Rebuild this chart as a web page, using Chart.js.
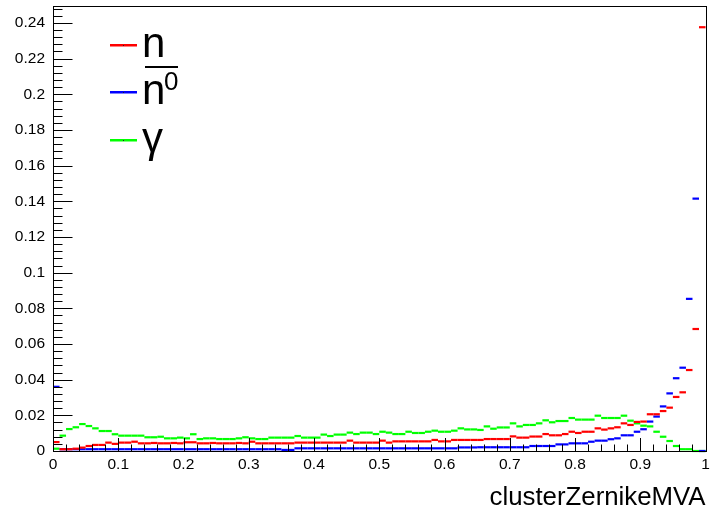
<!DOCTYPE html>
<html>
<head>
<meta charset="utf-8">
<script src="https://cdn.jsdelivr.net/npm/chart.js@4/dist/chart.umd.min.js"></script>
<style>
  html, body { margin: 0; padding: 0; background: #fff; }
  #wrap { width: 711px; height: 510px; }
</style>
</head>
<body>
<div id="wrap"><canvas id="mva" width="711" height="510"></canvas></div>
<script>
// histogram binning of clusterZernikeMVA
const nBins = 100;
const xLow = 0;
const xHigh = 1;
const yMax = 0.2495;

// labelled ticks
const xTickValues = [0, 0.1, 0.2, 0.3, 0.4, 0.5, 0.6, 0.7, 0.8, 0.9, 1];
const yTickValues = [0, 0.02, 0.04, 0.06, 0.08, 0.1, 0.12, 0.14, 0.16, 0.18, 0.2, 0.22, 0.24];

// normalised bin contents per particle type
const neutron = [
    0.0050, 0.0010, 0.0010, 0.0013, 0.0019, 0.0028, 0.0034, 0.0034, 0.0047, 0.0040,
    0.0047, 0.0047, 0.0052, 0.0043, 0.0043, 0.0045, 0.0043, 0.0043, 0.0045, 0.0043,
    0.0049, 0.0049, 0.0043, 0.0043, 0.0045, 0.0043, 0.0043, 0.0043, 0.0045, 0.0043,
    0.0052, 0.0043, 0.0043, 0.0043, 0.0043, 0.0043, 0.0043, 0.0047, 0.0047, 0.0047,
    0.0047, 0.0047, 0.0047, 0.0047, 0.0047, 0.0058, 0.0047, 0.0047, 0.0047, 0.0047,
    0.0058, 0.0047, 0.0054, 0.0054, 0.0054, 0.0054, 0.0054, 0.0054, 0.0062, 0.0054,
    0.0054, 0.0062, 0.0062, 0.0062, 0.0062, 0.0062, 0.0067, 0.0067, 0.0067, 0.0067,
    0.0082, 0.0075, 0.0075, 0.0081, 0.0081, 0.0095, 0.0088, 0.0088, 0.0095, 0.0108,
    0.0101, 0.0108, 0.0108, 0.0127, 0.0120, 0.0127, 0.0133, 0.0155, 0.0146, 0.0163,
    0.0165, 0.0206, 0.0206, 0.0224, 0.0243, 0.0303, 0.0329, 0.0454, 0.0684, 0.2376
];

const antiNeutron = [
    0.0360, 0.0010, 0.0010, 0.0010, 0.0010, 0.0010, 0.0010, 0.0010, 0.0010, 0.0010,
    0.0010, 0.0010, 0.0010, 0.0010, 0.0010, 0.0010, 0.0010, 0.0010, 0.0010, 0.0010,
    0.0010, 0.0010, 0.0010, 0.0010, 0.0010, 0.0010, 0.0010, 0.0010, 0.0010, 0.0010,
    0.0010, 0.0010, 0.0010, 0.0010, 0.0010, 0.0006, 0.0006, 0.0015, 0.0015, 0.0015,
    0.0015, 0.0015, 0.0015, 0.0015, 0.0015, 0.0015, 0.0015, 0.0015, 0.0015, 0.0015,
    0.0015, 0.0015, 0.0015, 0.0015, 0.0015, 0.0015, 0.0015, 0.0015, 0.0015, 0.0015,
    0.0015, 0.0015, 0.0020, 0.0020, 0.0020, 0.0021, 0.0021, 0.0021, 0.0021, 0.0021,
    0.0021, 0.0021, 0.0021, 0.0028, 0.0028, 0.0028, 0.0028, 0.0037, 0.0037, 0.0043,
    0.0043, 0.0043, 0.0052, 0.0058, 0.0058, 0.0066, 0.0071, 0.0088, 0.0088, 0.0108,
    0.0122, 0.0165, 0.0193, 0.0250, 0.0323, 0.0408, 0.0467, 0.0853, 0.1415, 0.0000
];

const photon = [
    0.0013, 0.0086, 0.0123, 0.0133, 0.0151, 0.0140, 0.0127, 0.0112, 0.0112, 0.0094,
    0.0086, 0.0086, 0.0086, 0.0086, 0.0077, 0.0077, 0.0080, 0.0071, 0.0071, 0.0075,
    0.0071, 0.0094, 0.0067, 0.0071, 0.0071, 0.0067, 0.0067, 0.0067, 0.0071, 0.0077,
    0.0071, 0.0067, 0.0067, 0.0075, 0.0075, 0.0075, 0.0075, 0.0084, 0.0075, 0.0075,
    0.0075, 0.0092, 0.0084, 0.0092, 0.0092, 0.0103, 0.0095, 0.0103, 0.0103, 0.0095,
    0.0108, 0.0103, 0.0095, 0.0095, 0.0108, 0.0101, 0.0101, 0.0108, 0.0114, 0.0108,
    0.0108, 0.0114, 0.0127, 0.0121, 0.0121, 0.0118, 0.0138, 0.0125, 0.0132, 0.0132,
    0.0155, 0.0138, 0.0146, 0.0146, 0.0155, 0.0172, 0.0161, 0.0168, 0.0168, 0.0185,
    0.0176, 0.0176, 0.0176, 0.0198, 0.0185, 0.0185, 0.0185, 0.0198, 0.0170, 0.0155,
    0.0142, 0.0138, 0.0108, 0.0080, 0.0056, 0.0028, 0.0010, 0.0010, 0.0000, 0.0000
];

const FONT = '"Liberation Sans", Arial, Helvetica, sans-serif';
Chart.defaults.color = '#000';
Chart.defaults.font.family = FONT;

const binWidth = (xHigh - xLow) / nBins;

function toPoints(vals) {
    return vals.map((v, i) => ({ x: xLow + (i + 0.5) * binWidth, y: v }));
}

function fmt(v) {
    return String(+v.toFixed(3));
}

// ROOT style frame with inward ticks on the left and bottom axes
const rootFrame = {
    id: 'rootFrame',
    afterDatasetsDraw(chart) {
        const { ctx, chartArea: a, scales: { x, y } } = chart;
        ctx.save();
        ctx.strokeStyle = '#000';
        ctx.lineWidth = 1;
        ctx.beginPath();
        // x ticks every 0.02, major every 0.1
        for (let k = 0; k <= 50; k++) {
            const px = Math.round(x.getPixelForValue(k * 0.02)) + 0.5;
            const len = (k % 5 === 0) ? 13 : 6.5;
            ctx.moveTo(px, a.bottom);
            ctx.lineTo(px, a.bottom - len);
        }
        // y ticks every 0.004, major every 0.02
        for (let k = 0; k * 0.004 <= yMax; k++) {
            const py = Math.round(y.getPixelForValue(k * 0.004)) + 0.5;
            const len = (k % 5 === 0) ? 19.5 : 9.5;
            ctx.moveTo(a.left, py);
            ctx.lineTo(a.left + len, py);
        }
        ctx.stroke();
        ctx.strokeRect(Math.round(a.left) + 0.5, Math.round(a.top) + 0.5,
            Math.round(a.right - a.left), Math.round(a.bottom - a.top));
        ctx.restore();
    }
};

// legend box: n, anti-n^0 and gamma
const rootLegend = {
    id: 'rootLegend',
    afterDraw(chart) {
        const ctx = chart.ctx;
        const rows = [
            { color: '#ff0000', y: 45 },
            { color: '#0000ff', y: 92 },
            { color: '#00ff00', y: 140 }
        ];
        ctx.save();
        rows.forEach(r => {
            ctx.fillStyle = r.color;
            ctx.fillRect(110, r.y - 1, 27, 2.5);
            ctx.fillStyle = '#222';
            ctx.fillRect(123, r.y, 1, 1);
        });
        ctx.fillStyle = '#000';
        ctx.textBaseline = 'alphabetic';
        ctx.textAlign = 'left';
        ctx.font = '42px ' + FONT;
        ctx.fillText('n', 142, 57);
        ctx.fillRect(145, 66, 33, 2);
        ctx.fillText('n', 142, 104);
        ctx.fillText('\u03b3', 142, 152);
        ctx.font = '26px ' + FONT;
        ctx.fillText('0', 164, 90);
        ctx.restore();
    }
};

function series(label, vals, color) {
    return {
        label: label,
        data: toPoints(vals),
        borderColor: color,
        backgroundColor: color,
        pointStyle: 'line',
        pointRadius: 3.27,
        pointHoverRadius: 3.27,
        pointBorderWidth: 2.2,
        showLine: false,
        clip: false
    };
}

const chart = new Chart(document.getElementById('mva'), {
    type: 'scatter',
    data: {
        datasets: [
            series('n', neutron, '#ff0000'),
            series('anti-n0', antiNeutron, '#0000ff'),
            series('gamma', photon, '#00ff00')
        ]
    },
    options: {
        responsive: false,
        animation: false,
        events: [],
        layout: { padding: { left: 0, right: 4, top: 6, bottom: 0 } },
        plugins: {
            legend: { display: false },
            tooltip: { enabled: false }
        },
        scales: {
            x: {
                type: 'linear',
                min: xLow,
                max: xHigh,
                grid: { display: false, drawTicks: false, tickLength: 0 },
                border: { display: false },
                ticks: {
                    padding: 4,
                    maxRotation: 0,
                    autoSkip: false,
                    font: { size: 15.5, family: FONT },
                    callback: v => fmt(v)
                },
                title: {
                    display: true,
                    text: 'clusterZernikeMVA',
                    align: 'end',
                    font: { size: 25.8, family: FONT },
                    padding: { top: 0, bottom: -3 }
                },
                afterBuildTicks: s => { s.ticks = xTickValues.map(v => ({ value: v })); },
                afterFit: s => { s.height = 59; s.paddingLeft = 0; s.paddingRight = 0; }
            },
            y: {
                min: 0,
                max: yMax,
                grid: { display: false, drawTicks: false, tickLength: 0 },
                border: { display: false },
                ticks: {
                    padding: 8,
                    autoSkip: false,
                    font: { size: 15.5, family: FONT },
                    callback: v => fmt(v)
                },
                afterBuildTicks: s => { s.ticks = yTickValues.map(v => ({ value: v })); },
                afterFit: s => { s.width = 53; s.paddingTop = 0; s.paddingBottom = 0; }
            }
        }
    },
    plugins: [rootFrame, rootLegend]
});
</script>
</body>
</html>
